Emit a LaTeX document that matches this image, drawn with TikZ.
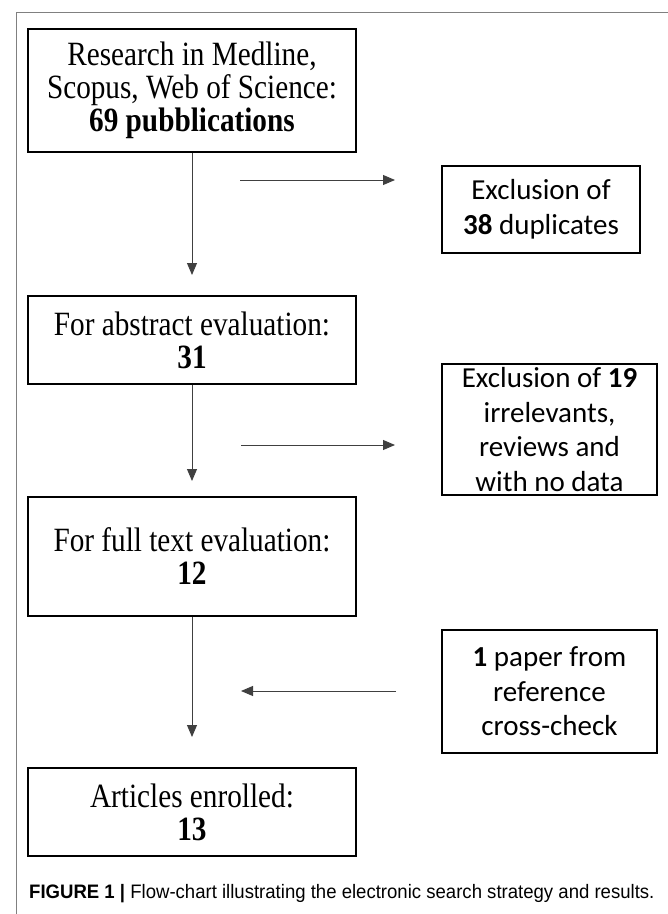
\documentclass[tikz,border=0pt]{standalone}
\usepackage{fontspec}
\setmainfont{Liberation Serif}[FakeStretch=0.86]
\newfontfamily\boxsans{Carlito}
\newfontfamily\capsans{Liberation Sans}[FakeStretch=0.952]
\usetikzlibrary{arrows.meta}
\begin{document}
\begin{tikzpicture}[x=1pt,y=-1pt,
  serifbox/.style={draw=black,line width=1.7pt,rectangle,align=center,inner sep=0pt,
    font=\fontsize{34}{33}\selectfont},
  sansbox/.style={draw=black,line width=1.7pt,rectangle,align=center,inner sep=0pt,
    font=\boxsans\fontsize{29}{34.5}\selectfont},
  arr/.style={draw=black!75,line width=0.9pt,-{Triangle[length=12pt,width=10pt]}},
  framel/.style={draw=black!50,line width=1pt}]
\useasboundingbox (0,0) rectangle (668,914);
\draw[framel] (16,914) -- (16,12) -- (668,12);
% left column
\node[serifbox,minimum width=328pt,minimum height=123pt] (b1) at (192,90.5)
  {Research in Medline,\\Scopus, Web of Science:\\\textbf{69 pubblications}};
\node[serifbox,minimum width=328pt,minimum height=88pt] (b3) at (192,340)
  {For abstract evaluation:\\\textbf{31}};
\node[serifbox,minimum width=328pt,minimum height=119pt] (b5) at (192,556.5)
  {For full text evaluation:\\\textbf{12}};
\node[serifbox,minimum width=328pt,minimum height=88pt] (b7) at (192,812)
  {Articles enrolled:\\\textbf{13}};
% right column
\node[sansbox,minimum width=198pt,minimum height=87pt] (b2) at (541,209.5)
  {Exclusion of\\\textbf{38} duplicates};
\node[sansbox,minimum width=215pt,minimum height=131pt] (b4) at (549.5,429.5)
  {Exclusion of \textbf{19}\\irrelevants,\\reviews and\\with no data};
\node[sansbox,minimum width=215pt,minimum height=123pt] (b6) at (549.5,691.5)
  {\textbf{1} paper from\\reference\\cross-check};
% arrow end points
\coordinate (t1) at (192,275);
\coordinate (t2) at (192,481);
\coordinate (t3) at (192,737);
\coordinate (h1a) at (240,180);
\coordinate (h1b) at (395,180);
\coordinate (h2a) at (241,445);
\coordinate (h2b) at (395,445);
\coordinate (h3a) at (396,691);
\coordinate (h3b) at (241,691);
\draw[arr] (b1.south) -- (t1);
\draw[arr] (b3.south) -- (t2);
\draw[arr] (b5.south) -- (t3);
\draw[arr] (h1a) -- (h1b);
\draw[arr] (h2a) -- (h2b);
\draw[arr] (h3a) -- (h3b);
% caption
\node[anchor=base west,inner sep=0pt,font=\capsans\fontsize{19.5}{22}\selectfont] (cap) at (29,898)
  {\textbf{FIGURE 1 |} Flow-chart illustrating the electronic search strategy and results.};
\end{tikzpicture}
\end{document}
